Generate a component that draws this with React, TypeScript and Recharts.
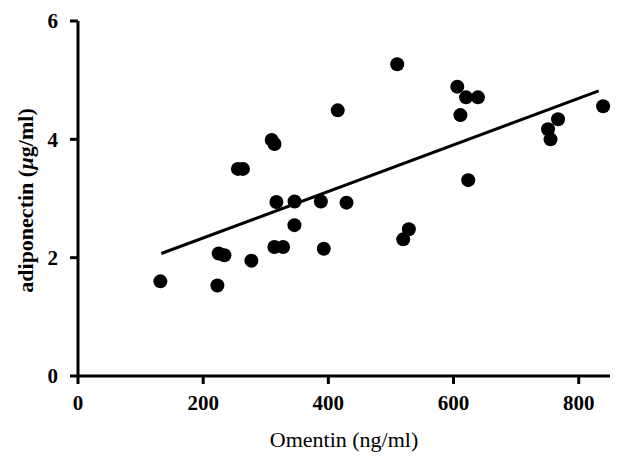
import { ScatterChart, Scatter, XAxis, YAxis } from "recharts";

// omentin (ng/ml) vs adiponectin (µg/ml)
const omentin = [
  131.6, 222.7, 224.8, 233.9, 277, 313.8, 327.7, 345.8, 255.5, 263.5,
  309.5, 314, 317, 346, 388, 429, 392.7, 415, 510, 519.6,
  528.6, 606, 611, 620, 639, 623.5, 751, 755, 767, 839,
];
const adiponectin = [
  1.6, 1.53, 2.07, 2.04, 1.95, 2.18, 2.18, 2.55, 3.5, 3.5,
  3.99, 3.92, 2.94, 2.95, 2.95, 2.93, 2.15, 4.49, 5.27, 2.31,
  2.48, 4.89, 4.41, 4.71, 4.71, 3.31, 4.17, 4.0, 4.34, 4.56,
];

// fitted line end points
const fitX = [133, 832];
const fitY = [2.07, 4.82];

const xTicks = [0, 200, 400, 600, 800];
const yTicks = [0, 2, 4, 6];

const points = omentin.map((x, i) => ({ x, y: adiponectin[i] }));
const fit = fitX.map((x, i) => ({ x, y: fitY[i] }));

const serif = "Liberation Serif";

const tickStyle = {
  fontFamily: serif,
  fontWeight: "bold",
  fontSize: 21,
  fill: "#000",
};

const Dot = (props: any) => <circle cx={props.cx} cy={props.cy} r={7} fill="#000" />;
const NoDot = () => <g />;

const YTitle = (props: any) => {
  const vb = props.viewBox;
  const cx = 33;
  const cy = vb.y + vb.height / 2 + 2;
  return (
    <text
      x={cx}
      y={cy}
      transform={`rotate(-90 ${cx} ${cy})`}
      textAnchor="middle"
      fontFamily={serif}
      fontWeight="bold"
      fontSize={22}
      fill="#000"
    >
      adiponectin (<tspan fontStyle="italic">µ</tspan>g/ml)
    </text>
  );
};

export default function App() {
  return (
    <div style={{ position: "absolute", left: 0, top: 0, background: "#fff" }}>
      <ScatterChart width={629} height={464} margin={{ top: 21, right: 19, bottom: 0, left: 0 }}>
        <XAxis
          type="number"
          dataKey="x"
          domain={[0, 850]}
          ticks={xTicks}
          allowDataOverflow
          height={88}
          axisLine={{ stroke: "#000", strokeWidth: 3 }}
          tickLine={{ stroke: "#000", strokeWidth: 3 }}
          tickSize={8}
          tickMargin={11}
          tick={tickStyle}
          label={{
            value: "Omentin (ng/ml)",
            position: "insideBottom",
            offset: 17,
            style: { fontFamily: serif, fontSize: 22, fill: "#000" },
          }}
        />
        <YAxis
          type="number"
          dataKey="y"
          domain={[0, 6]}
          ticks={yTicks}
          width={78}
          axisLine={{ stroke: "#000", strokeWidth: 3 }}
          tickLine={{ stroke: "#000", strokeWidth: 3 }}
          tickSize={8}
          tickMargin={12}
          tick={tickStyle}
          label={<YTitle />}
        />
        <Scatter data={fit} line={{ stroke: "#000", strokeWidth: 3 }} shape={NoDot} isAnimationActive={false} />
        <Scatter data={points} shape={Dot} isAnimationActive={false} />
      </ScatterChart>
    </div>
  );
}
